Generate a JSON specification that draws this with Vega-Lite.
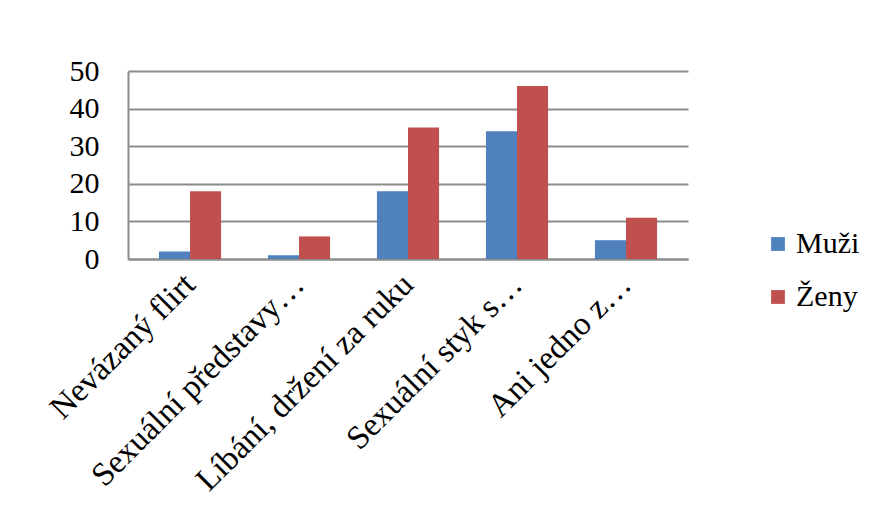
{
  "$schema": "https://vega.github.io/schema/vega-lite/v6.json",
  "width": 560,
  "height": 188,
  "autosize": "none",
  "padding": {"left": 128, "top": 71, "right": 188, "bottom": 258},
  "background": "white",
  "data": {"values": [
    {"kat": "Nevázaný flirt", "pohlavi": "Muži", "hodnota": 2},
    {"kat": "Nevázaný flirt", "pohlavi": "Ženy", "hodnota": 18},
    {"kat": "Sexuální představy…", "pohlavi": "Muži", "hodnota": 1},
    {"kat": "Sexuální představy…", "pohlavi": "Ženy", "hodnota": 6},
    {"kat": "Líbání, držení za ruku", "pohlavi": "Muži", "hodnota": 18},
    {"kat": "Líbání, držení za ruku", "pohlavi": "Ženy", "hodnota": 35},
    {"kat": "Sexuální styk s…", "pohlavi": "Muži", "hodnota": 34},
    {"kat": "Sexuální styk s…", "pohlavi": "Ženy", "hodnota": 46},
    {"kat": "Ani jedno z…", "pohlavi": "Muži", "hodnota": 5},
    {"kat": "Ani jedno z…", "pohlavi": "Ženy", "hodnota": 11}
  ]},
  "mark": {"type": "bar", "stroke": null},
  "encoding": {
    "x": {
      "field": "kat", "type": "nominal", "sort": null,
      "scale": {"paddingInner": 0.43, "paddingOuter": 0.284},
      "axis": {
        "title": null, "labelAngle": -45, "labelAlign": "right", "labelBaseline": "middle",
        "labelFont": "Liberation Serif", "labelFontSize": 33, "labelColor": "#000000",
        "labelPadding": 20, "ticks": false, "domain": true, "domainColor": "#8c8c8c", "domainWidth": 2,
        "labelLimit": 500
      }
    },
    "xOffset": {"field": "pohlavi", "sort": ["Muži", "Ženy"]},
    "y": {
      "field": "hodnota", "type": "quantitative",
      "scale": {"domain": [0, 50]},
      "axis": {
        "title": null, "values": [0, 10, 20, 30, 40, 50],
        "labelFont": "Liberation Serif", "labelFontSize": 30, "labelColor": "#000000",
        "labelPadding": 29, "ticks": false, "domain": true, "domainColor": "#8c8c8c", "domainWidth": 2,
        "grid": true, "gridColor": "#8c8c8c", "gridWidth": 2
      }
    },
    "color": {
      "field": "pohlavi", "type": "nominal", "sort": ["Muži", "Ženy"],
      "scale": {"domain": ["Muži", "Ženy"], "range": ["#4f81bd", "#c0504d"]},
      "legend": {
        "title": null, "orient": "none", "legendX": 635, "legendY": 158,
        "symbolType": "square", "symbolSize": 190, "symbolStrokeWidth": 0,
        "labelFont": "Liberation Serif", "labelFontSize": 30, "labelColor": "#000000",
        "rowPadding": 23, "labelOffset": 3
      }
    }
  },
  "config": {"view": {"stroke": null}}
}
